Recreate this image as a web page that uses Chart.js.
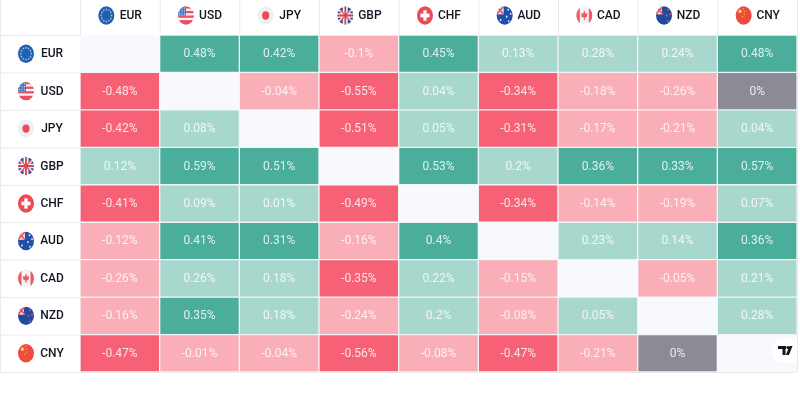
<!DOCTYPE html>
<html>
<head>
<meta charset="utf-8">
<title>Currency heatmap</title>
<script src="https://cdn.jsdelivr.net/npm/chart.js@4"></script>
<style>
    html, body { margin: 0; padding: 0; background: #fff; overflow: hidden; }
    #wrap { width: 800px; height: 400px; }
    canvas { filter: blur(0.35px); }
</style>
</head>
<body>
<div id="wrap"><canvas id="heatmap" width="800" height="400"></canvas></div>
<script>
// Data, percent change of row currency against column currency
const currencies = ['EUR', 'USD', 'JPY', 'GBP', 'CHF', 'AUD', 'CAD', 'NZD', 'CNY'];

const eurRow = [null, 0.48, 0.42, -0.1, 0.45, 0.13, 0.28, 0.24, 0.48];
const usdRow = [-0.48, null, -0.04, -0.55, 0.04, -0.34, -0.18, -0.26, 0];
const jpyRow = [-0.42, 0.08, null, -0.51, 0.05, -0.31, -0.17, -0.21, 0.04];
const gbpRow = [0.12, 0.59, 0.51, null, 0.53, 0.2, 0.36, 0.33, 0.57];
const chfRow = [-0.41, 0.09, 0.01, -0.49, null, -0.34, -0.14, -0.19, 0.07];
const audRow = [-0.12, 0.41, 0.31, -0.16, 0.4, null, 0.23, 0.14, 0.36];
const cadRow = [-0.26, 0.26, 0.18, -0.35, 0.22, -0.15, null, -0.05, 0.21];
const nzdRow = [-0.16, 0.35, 0.18, -0.24, 0.2, -0.08, 0.05, null, 0.28];
const cnyRow = [-0.47, -0.01, -0.04, -0.56, -0.08, -0.47, -0.21, 0, null];

const rows = [eurRow, usdRow, jpyRow, gbpRow, chfRow, audRow, cadRow, nzdRow, cnyRow];

function cellColor(v) {
    if (v === null) return 'rgba(0,0,0,0)';
    if (v === 0) return '#8B8B95';
    if (v >= 0.3) return '#4BAE9A';
    if (v > 0) return '#A8D7CD';
    if (v <= -0.3) return '#F76175';
    return '#F9AEB8';
}

// Small round flags, drawn around 0,0 in a 16 wide, 18 tall ellipse
const flagPainters = {
    EUR(c) {
        c.fillStyle = '#1F5FB4';
        c.fillRect(-9, -9, 18, 18);
        c.fillStyle = '#9DBBE0';
        for (let i = 0; i < 12; i++) {
            const a = i * Math.PI / 6;
            c.beginPath();
            c.arc(Math.cos(a) * 5.2, Math.sin(a) * 5.2, 0.8, 0, Math.PI * 2);
            c.fill();
        }
    },
    USD(c) {
        c.fillStyle = '#F4F5F8';
        c.fillRect(-9, -9, 18, 18);
        c.fillStyle = '#E9525E';
        for (let y = -8; y < 8; y += 4) c.fillRect(-9, y, 18, 2);
        c.fillRect(-9, 5, 18, 4);
        c.fillStyle = '#4A78C4';
        c.fillRect(-9, -9, 9, 9);
        c.fillStyle = '#DCE6F5';
        for (let y = -7; y < 0; y += 2.5) for (let x = -7; x < 0; x += 2.5) c.fillRect(x, y, 1, 1);
    },
    JPY(c) {
        c.fillStyle = '#EFF0F6';
        c.fillRect(-9, -9, 18, 18);
        c.fillStyle = '#EE4A55';
        c.beginPath();
        c.arc(0, 0, 3.6, 0, Math.PI * 2);
        c.fill();
    },
    GBP(c) {
        c.fillStyle = '#F2F3F7';
        c.fillRect(-9, -9, 18, 18);
        c.fillStyle = '#2F4C9A';
        [[-1, -1], [1, -1], [-1, 1], [1, 1]].forEach(([sx, sy]) => {
            c.beginPath();
            c.moveTo(sx * 2.5, sy * 7);
            c.lineTo(sx * 6.5, sy * 7);
            c.lineTo(sx * 2.5, sy * 3);
            c.fill();
            c.beginPath();
            c.moveTo(sx * 8, sy * 2);
            c.lineTo(sx * 8, sy * 5);
            c.lineTo(sx * 4, sy * 2);
            c.fill();
        });
        c.strokeStyle = '#D9434F';
        c.lineWidth = 1;
        c.beginPath();
        c.moveTo(-8, -8); c.lineTo(8, 8);
        c.moveTo(8, -8); c.lineTo(-8, 8);
        c.stroke();
        c.fillStyle = '#D9434F';
        c.fillRect(-9, -0.9, 18, 1.8);
        c.fillRect(-0.9, -9, 1.8, 18);
    },
    CHF(c) {
        c.fillStyle = '#EE4A50';
        c.fillRect(-9, -9, 18, 18);
        c.fillStyle = '#fff';
        c.fillRect(-4.5, -1.6, 9, 3.2);
        c.fillRect(-1.6, -4.5, 3.2, 9);
    },
    AUD(c) {
        c.fillStyle = '#1F4FA8';
        c.fillRect(-9, -9, 18, 18);
        c.fillStyle = '#F2DDE0';
        c.fillRect(-9, -9, 8, 8);
        c.strokeStyle = '#E5505C';
        c.lineWidth = 1.4;
        c.beginPath();
        c.moveTo(-8, -8); c.lineTo(-1, -1);
        c.moveTo(-1, -8); c.lineTo(-8, -1);
        c.stroke();
        c.fillStyle = '#E8EEF8';
        [[3.5, -5], [6, -1.5], [2, 1], [4, 5], [-4, 4]].forEach(([x, y]) => {
            c.beginPath();
            c.arc(x, y, 0.9, 0, Math.PI * 2);
            c.fill();
        });
    },
    CAD(c) {
        c.fillStyle = '#F5F5F8';
        c.fillRect(-9, -9, 18, 18);
        c.fillStyle = '#EE5A63';
        c.fillRect(-9, -9, 4.5, 18);
        c.fillRect(4.5, -9, 4.5, 18);
        c.beginPath();
        c.moveTo(0, -4.5);
        c.lineTo(1.3, -1.5);
        c.lineTo(3.3, -2);
        c.lineTo(2.4, 1.5);
        c.lineTo(0.5, 1.8);
        c.lineTo(0.5, 4);
        c.lineTo(-0.5, 4);
        c.lineTo(-0.5, 1.8);
        c.lineTo(-2.4, 1.5);
        c.lineTo(-3.3, -2);
        c.lineTo(-1.3, -1.5);
        c.fill();
    },
    NZD(c) {
        c.fillStyle = '#1F4AA0';
        c.fillRect(-9, -9, 18, 18);
        c.fillStyle = '#F2DDE0';
        c.fillRect(-9, -9, 7, 8);
        c.strokeStyle = '#E5505C';
        c.lineWidth = 1.4;
        c.beginPath();
        c.moveTo(-8, -8); c.lineTo(-1, -1);
        c.moveTo(-1, -8); c.lineTo(-8, -1);
        c.stroke();
        c.fillStyle = '#E9616C';
        [[4, -5], [6, -1], [2.5, 0], [4, 5]].forEach(([x, y]) => {
            c.beginPath();
            c.arc(x, y, 0.8, 0, Math.PI * 2);
            c.fill();
        });
    },
    CNY(c) {
        c.fillStyle = '#EE4A3F';
        c.fillRect(-9, -9, 18, 18);
        c.fillStyle = '#F6C84C';
        c.beginPath();
        c.arc(-3.6, -3.6, 1.7, 0, Math.PI * 2);
        c.fill();
        [[-0.4, -6], [0.8, -3.6], [0.6, -1], [-1.2, 0.8]].forEach(([x, y]) => {
            c.beginPath();
            c.arc(x, y, 0.6, 0, Math.PI * 2);
            c.fill();
        });
    }
};

function drawFlag(c, name, x, y) {
    c.save();
    c.translate(x, y);
    c.scale(1, 1.15);
    c.beginPath();
    c.arc(0, 0, 8, 0, Math.PI * 2);
    c.clip();
    flagPainters[name](c);
    c.restore();
}

function drawLabel(c, name, x, y) {
    c.font = '500 12px Roboto';
    c.fillStyle = '#131722';
    c.textAlign = 'center';
    c.textBaseline = 'middle';
    c.fillText(name, x, y + 0.5);
}

const gridBackground = {
    id: 'gridBackground',
    beforeDatasetsDraw(chart) {
        const c = chart.ctx;
        const a = chart.chartArea;
        c.save();
        c.fillStyle = '#F8F9FD';
        c.fillRect(a.left, a.top, a.right - a.left, a.bottom - a.top);
        c.restore();
    }
};

const headers = {
    id: 'headers',
    afterDatasetsDraw(chart) {
        const c = chart.ctx;
        const a = chart.chartArea;
        const xs = chart.scales.x;
        const ys = chart.scales.y;
        c.save();

        // values inside the cells
        c.font = '400 12px Roboto';
        c.textAlign = 'center';
        c.textBaseline = 'middle';
        c.fillStyle = 'rgba(255,255,255,0.82)';
        rows.forEach((row, r) => {
            row.forEach((v, i) => {
                if (v === null) return;
                c.fillText(v + '%', xs.getPixelForValue(i), ys.getPixelForValue(r + 0.5) + 0.5);
            });
        });

        // separators of header row, first column and outer frame
        c.strokeStyle = '#E8EAF0';
        c.lineWidth = 1;
        c.beginPath();
        currencies.forEach((name, i) => {
            const left = xs.getPixelForValue(i) - xs.width / currencies.length / 2;
            c.moveTo(left + 0.5, 0);
            c.lineTo(left + 0.5, a.top);
            const top = ys.getPixelForValue(i);
            c.moveTo(0, top + 0.5);
            c.lineTo(a.left, top + 0.5);
        });
        c.moveTo(a.right + 0.5, 0);
        c.lineTo(a.right + 0.5, a.bottom);
        c.moveTo(0.5, 0);
        c.lineTo(0.5, a.bottom);
        c.moveTo(0, a.bottom + 0.5);
        c.lineTo(a.right, a.bottom + 0.5);
        c.stroke();

        // column and row labels with flags
        currencies.forEach((name, i) => {
            const cx = xs.getPixelForValue(i);
            drawFlag(c, name, cx - 13.5, a.top / 2 - 2);
            drawLabel(c, name, cx + 11, a.top / 2 - 2);
            const cy = ys.getPixelForValue(i + 0.5);
            drawFlag(c, name, 26, cy);
            drawLabel(c, name, 52, cy);
        });

        // watermark badge in the corner
        c.fillStyle = '#fff';
        c.beginPath();
        c.roundRect(772, 338, 25, 25, [12, 0, 0, 12]);
        c.fill();
        c.fillStyle = '#131722';
        c.fillRect(778, 346, 8, 3);
        c.fillRect(782.5, 346, 3, 9);
        c.beginPath();
        c.arc(788, 347.5, 1.6, 0, Math.PI * 2);
        c.fill();
        c.beginPath();
        c.moveTo(789.5, 346);
        c.lineTo(792.5, 346);
        c.lineTo(789, 355);
        c.lineTo(785.8, 355);
        c.fill();
        c.restore();
    }
};

new Chart(document.getElementById('heatmap'), {
    type: 'bar',
    data: {
        labels: currencies,
        datasets: rows.map((row, r) => ({
            label: currencies[r],
            data: row.map(v => (v === null ? null : [r, r + 1])),
            backgroundColor: row.map(cellColor),
            borderColor: '#F2F4F8',
            borderWidth: 1,
            borderSkipped: false,
            grouped: false,
            barPercentage: 1,
            categoryPercentage: 1
        }))
    },
    options: {
        responsive: false,
        animation: false,
        layout: { padding: { left: 80, top: 35, right: 3, bottom: 28 } },
        plugins: { legend: { display: false }, tooltip: { enabled: false } },
        scales: {
            x: { display: false, position: 'top' },
            y: { display: false, reverse: true, min: 0, max: currencies.length }
        }
    },
    plugins: [gridBackground, headers]
});
</script>
</body>
</html>
